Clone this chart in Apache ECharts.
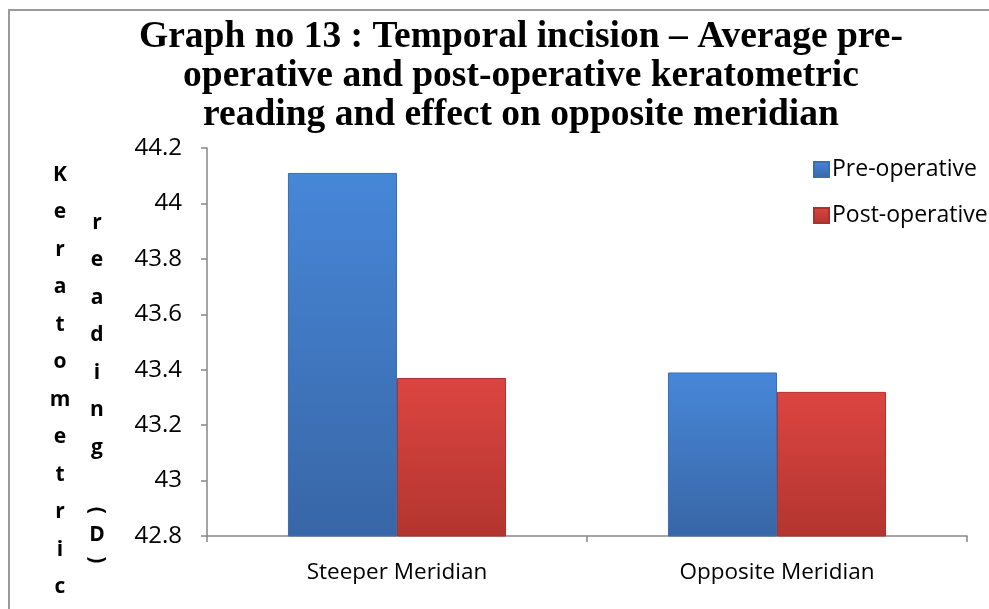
<!DOCTYPE html>
<html>
<head>
<meta charset="utf-8">
<script src="https://cdn.jsdelivr.net/npm/echarts@6/dist/echarts.min.js"></script>
<style>
html,body{margin:0;padding:0;background:#fff;}
#c{width:989px;height:609px;}
</style>
</head>
<body>
<div id="c"></div>
<script>
const titleText = 'Graph no 13 : Temporal incision \u2013 Average pre-\noperative and post-operative keratometric\nreading and effect on opposite meridian';
const categories = ['Steeper Meridian', 'Opposite Meridian'];
const seriesNames = ['Pre-operative', 'Post-operative'];
const preOperative = [44.11, 43.39];
const postOperative = [43.37, 43.32];
const yMin = 42.8, yMax = 44.2, yStep = 0.2;
const yNameColumns = ['Keratometric', 'reading (D)'];

const chart = echarts.init(document.getElementById('c'));

// vertical stacked axis-name characters
const nameGraphics = [];
const colX = [60, 97];
const colStart = [175, 223];
function charH(ch){ if (ch === '(' || ch === ')') return 12; return 37.5; }
yNameColumns.forEach((word, ci) => {
  let y = colStart[ci];
  const chars = word.split('');
  chars.forEach((ch, i) => {
    if (i > 0) y += (charH(chars[i-1]) + charH(ch)) / 2;
    if (ch === ' ') return;
    const rot = (ch === '(' || ch === ')') ? -Math.PI / 2 : 0;
    nameGraphics.push({
      type: 'text', x: colX[ci], y: y, rotation: rot,
      style: { text: ch, font: 'bold 21px "Open Sans"', fill: '#000', textAlign: 'center', textVerticalAlign: 'middle' }
    });
  });
});

const blueGrad = new echarts.graphic.LinearGradient(0, 0, 0, 1, [
  { offset: 0, color: '#4787d8' }, { offset: 1, color: '#3866a6' }]);
const redGrad = new echarts.graphic.LinearGradient(0, 0, 0, 1, [
  { offset: 0, color: '#dc4541' }, { offset: 1, color: '#b3352f' }]);

chart.setOption({
  animation: false,
  backgroundColor: '#fff',
  title: {
    text: titleText, left: 516, top: 13, textAlign: 'center',
    textStyle: { fontFamily: '"Liberation Serif"', fontWeight: 'bold', fontSize: 37.5, lineHeight: 39, color: '#000' }
  },
  legend: {
    orient: 'vertical', left: 808, top: 153, itemGap: 23, itemWidth: 15, itemHeight: 15,
    icon: 'rect',
    textStyle: { fontFamily: '"Open Sans"', fontSize: 23, color: '#000', padding: [0, 0, 0, -2] },
    data: seriesNames
  },
  grid: { left: 207, right: 22, top: 148, bottom: 73 },
  xAxis: {
    type: 'category', data: categories,
    axisLine: { lineStyle: { color: '#868686', width: 1.5 } },
    axisTick: { show: true, length: 6, alignWithLabel: false, lineStyle: { color: '#868686', width: 1.5 } },
    axisLabel: { fontFamily: '"Open Sans"', fontSize: 22.5, color: '#000', margin: 25 }
  },
  yAxis: {
    type: 'value', min: yMin, max: yMax, interval: yStep,
    axisLine: { show: true, lineStyle: { color: '#868686', width: 1.5 } },
    axisTick: { show: true, length: 6, lineStyle: { color: '#868686', width: 1.5 } },
    splitLine: { show: false },
    axisLabel: { fontFamily: '"Open Sans"', fontSize: 24, color: '#000', margin: 25,
      formatter: v => String(+v.toFixed(1)) }
  },
  series: [
    { name: seriesNames[0], type: 'bar', data: preOperative, barGap: '0%', barCategoryGap: '42.6%',
      itemStyle: { color: blueGrad, borderColor: '#3a6eb0', borderWidth: 1 } },
    { name: seriesNames[1], type: 'bar', data: postOperative, barGap: '0%', barCategoryGap: '42.6%',
      itemStyle: { color: redGrad, borderColor: '#a8322d', borderWidth: 1 } }
  ],
  graphic: [
    { type: 'rect', shape: { x: 9, y: 10, width: 1000, height: 700 }, style: { fill: 'none', stroke: '#9a9a9a', lineWidth: 2 }, silent: true },
    ...nameGraphics
  ]
});
</script>
</body>
</html>
